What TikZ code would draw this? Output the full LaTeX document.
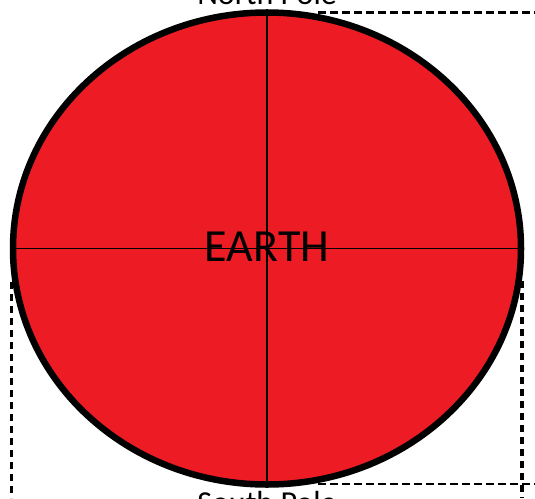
\documentclass[tikz,border=0pt]{standalone}
\usepackage{fontspec}
\setmainfont{Carlito}
\usetikzlibrary{shapes.geometric}
\definecolor{earthred}{HTML}{ED1C24}
\begin{document}
\begin{tikzpicture}[x=1pt,y=-1pt,
  globe/.style={ellipse,draw=black,fill=earthred,line width=6.5pt,inner sep=0pt,minimum width=508pt,minimum height=472pt},
  axis/.style={draw=black,line width=1.8pt},
  guide/.style={draw=black,line width=2.2pt,dash pattern=on 7.5pt off 4.5pt},
  guidev/.style={draw=black,line width=4pt,dash pattern=on 7pt off 5pt},
  lbl/.style={font=\fontsize{32}{32}\selectfont,inner sep=0pt}]
\useasboundingbox (0,0) rectangle (535,498);
\node[globe] (earth) at (267,248.5) {};
\draw[axis] (earth.north) -- (earth.south);
\draw[axis] (earth.west) -- (earth.east);
\node[inner sep=0pt,font=\fontsize{46}{46}\selectfont] (title) at (267,247) {EARTH};
\node[lbl,anchor=base] (north) at (267,4) {North Pole};
\node[lbl,anchor=north] (south) at (267,491) {South Pole};
\coordinate (t1) at (318,12.5);
\coordinate (t2) at (535,12.5);
\coordinate (b1) at (318,484);
\coordinate (b2) at (535,484);
\coordinate (r1) at (521.5,281);
\coordinate (r2) at (521.5,498);
\coordinate (l1) at (11.5,282);
\coordinate (l2) at (11.5,498);
\draw[guide] (t1) -- (t2);
\draw[guide] (b1) -- (b2);
\draw[guidev] (r1) -- (r2);
\draw[guidev,line width=3.2pt] (l1) -- (l2);
\end{tikzpicture}
\end{document}
